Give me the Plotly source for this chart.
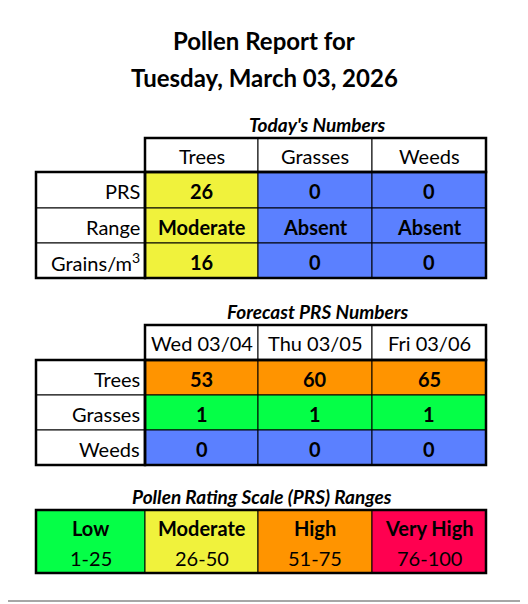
import plotly.graph_objects as go

# data
report_date = "Tuesday, March 03, 2026"
today_cols = ["Trees", "Grasses", "Weeds"]
today_rows = ["PRS", "Range", "Grains/m<sup>3</sup>"]
today_prs = [26, 0, 0]
today_range = ["Moderate", "Absent", "Absent"]
today_grains = [16, 0, 0]

fc_days = ["Wed 03/04", "Thu 03/05", "Fri 03/06"]
fc_rows = ["Trees", "Grasses", "Weeds"]
fc_values = [[53, 60, 65], [1, 1, 1], [0, 0, 0]]

scale_names = ["Low", "Moderate", "High", "Very High"]
scale_ranges = ["1-25", "26-50", "51-75", "76-100"]
scale_colors = ["#05FF47", "#F0F23C", "#FF9400", "#FF0050"]
absent_color = "#5B80FF"

FONT = "Lato"
col_x = [36, 145, 258, 372, 486]


def prs_color(v):
    if v == 0:
        return absent_color
    for lim, c in zip([25, 50, 75, 100], scale_colors):
        if v <= lim:
            return c
    return scale_colors[-1]


shapes, ann = [], []


def rect(x0, y0, x1, y1, fill="white", w=1):
    shapes.append(dict(type="rect", x0=x0, y0=y0, x1=x1, y1=y1, fillcolor=fill,
                       line=dict(color="black", width=w), layer="below"))


def outline(x0, y0, x1, y1):
    shapes.append(dict(type="rect", x0=x0, y0=y0, x1=x1, y1=y1,
                       line=dict(color="black", width=2.5)))


def text(x, y, s, size=20, bold=False, italic=False, anchor="center"):
    if bold:
        s = "<b>" + s + "</b>"
    if italic:
        s = "<i>" + s + "</i>"
    ann.append(dict(x=x, y=y, text=s, showarrow=False, xanchor=anchor, yanchor="middle",
                    font=dict(family=FONT, size=size, color="black")))


# main title
text(264, 40, "Pollen Report for", 24, bold=True)
text(264, 77, report_date, 24, bold=True)

# today's table
text(317, 124, "Today's Numbers", 19, bold=True, italic=True)
for i, c in enumerate(today_cols):
    rect(col_x[i + 1], 138, col_x[i + 2], 172)
    text((col_x[i + 1] + col_x[i + 2]) / 2, 156, c)
outline(col_x[1], 138, col_x[4], 172)
row_y = [172, 208, 243, 278]
body = [[str(v) for v in today_prs], today_range, [str(v) for v in today_grains]]
for r, lab in enumerate(today_rows):
    y0, y1 = row_y[r], row_y[r + 1]
    rect(col_x[0], y0, col_x[1], y1)
    text(col_x[1] - 3, (y0 + y1) / 2 + 1, lab, anchor="right")
    for i in range(3):
        rect(col_x[i + 1], y0, col_x[i + 2], y1, prs_color(today_prs[i]))
        text((col_x[i + 1] + col_x[i + 2]) / 2, (y0 + y1) / 2 + 1, body[r][i], bold=True)
outline(col_x[0], row_y[0], col_x[1], row_y[-1])
outline(col_x[1], row_y[0], col_x[4], row_y[-1])

# forecast table
text(317, 311, "Forecast PRS Numbers", 19, bold=True, italic=True)
for i, d in enumerate(fc_days):
    rect(col_x[i + 1], 325, col_x[i + 2], 360)
    text((col_x[i + 1] + col_x[i + 2]) / 2, 343, d)
outline(col_x[1], 325, col_x[4], 360)
frow_y = [360, 395, 430, 465]
for r, lab in enumerate(fc_rows):
    y0, y1 = frow_y[r], frow_y[r + 1]
    rect(col_x[0], y0, col_x[1], y1)
    text(col_x[1] - 3, (y0 + y1) / 2 + 1, lab, anchor="right")
    for i in range(3):
        v = fc_values[r][i]
        rect(col_x[i + 1], y0, col_x[i + 2], y1, prs_color(v))
        text((col_x[i + 1] + col_x[i + 2]) / 2, (y0 + y1) / 2 + 1, str(v), bold=True)
outline(col_x[0], frow_y[0], col_x[1], frow_y[-1])
outline(col_x[1], frow_y[0], col_x[4], frow_y[-1])

# scale
text(262, 496, "Pollen Rating Scale (PRS) Ranges", 19, bold=True, italic=True)
for i, (n, rg) in enumerate(zip(scale_names, scale_ranges)):
    rect(col_x[i], 510, col_x[i + 1], 573, scale_colors[i])
    text((col_x[i] + col_x[i + 1]) / 2, 528, n, bold=True)
    text((col_x[i] + col_x[i + 1]) / 2, 558, rg)
outline(col_x[0], 510, col_x[4], 573)

# page frame
shapes.append(dict(type="line", x0=522, x1=522, y0=0, y1=601, line=dict(color="#888", width=1.5)))
shapes.append(dict(type="line", x0=0, x1=522, y0=601, y1=601, line=dict(color="#888", width=1.5)))

# page body has an 8px margin, so the axes are offset to line up with the window
fig = go.Figure()
fig.update_layout(width=528, height=604, margin=dict(l=0, r=0, t=0, b=0),
                  plot_bgcolor="white", paper_bgcolor="white",
                  shapes=shapes, annotations=ann,
                  xaxis=dict(range=[8, 536], visible=False, fixedrange=True),
                  yaxis=dict(range=[612, 8], visible=False, fixedrange=True))
fig.write_html("out.html", config={"displayModeBar": False})
